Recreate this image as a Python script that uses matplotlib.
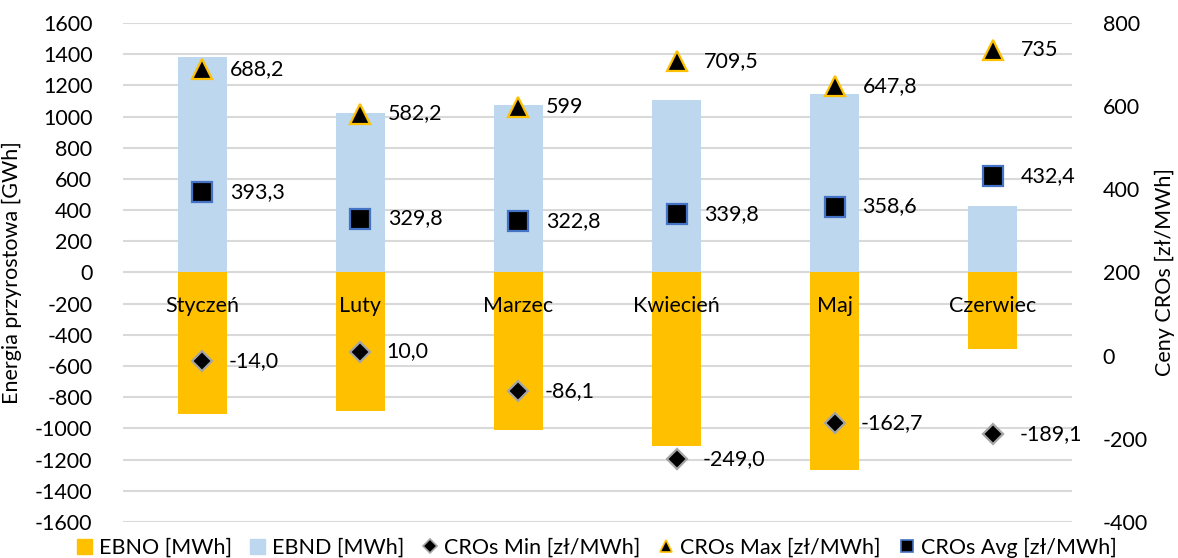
import matplotlib
matplotlib.use("Agg")
import matplotlib.pyplot as plt
from matplotlib.lines import Line2D
from matplotlib.patches import Patch
import numpy as np

plt.rcParams['font.family'] = ['Lato', 'DejaVu Sans']
plt.rcParams['axes.unicode_minus'] = False

months = ["Styczeń", "Luty", "Marzec", "Kwiecień", "Maj", "Czerwiec"]
ebno = [-905, -891, -1013, -1112, -1267, -490]
ebnd = [1380, 1026, 1075, 1103, 1144, 426]
cros_min = [-14.0, 10.0, -86.1, -249.0, -162.7, -189.1]
cros_max = [688.2, 582.2, 599, 709.5, 647.8, 735]
cros_avg = [393.3, 329.8, 322.8, 339.8, 358.6, 432.4]

C_EBNO = "#FFC000"
C_EBND = "#BDD7EE"
C_GRID = "#D9D9D9"
FS = 15.5

fig = plt.figure(figsize=(11.78, 5.58), dpi=100)
ax = fig.add_axes([0.1044, 0.0645, 0.8056, 0.8943])
ax2 = ax.twinx()

x = np.arange(len(months))
w = 0.31
ax.bar(x, ebno, width=w, color=C_EBNO, zorder=2)
ax.bar(x, ebnd, width=w, color=C_EBND, zorder=2)

ax.set_xlim(-0.5, len(months) - 0.5)
ax.set_ylim(-1600, 1600)
ax.set_yticks(np.arange(-1600, 1601, 200))
ax.yaxis.grid(True, color=C_GRID, linewidth=1.5, zorder=0)
ax.set_axisbelow(True)
ax.set_xticks([])
for s in ax.spines.values():
    s.set_visible(False)
for s in ax2.spines.values():
    s.set_visible(False)
ax.tick_params(axis='y', length=0, labelsize=FS, pad=22)
ax.set_ylabel("Energia przyrostowa [GWh]", fontsize=FS)
ax.yaxis.set_label_coords(-0.1064, 0.5)

ax2.set_ylim(-400, 800)
ax2.set_yticks(np.arange(-400, 801, 200))
ax2.tick_params(axis='y', length=0, labelsize=FS, pad=22)
ax2.set_ylabel("Ceny CROs [zł/MWh]", fontsize=FS)
ax2.yaxis.set_label_coords(1.087, 0.5)

# month names just below the zero line
for xi, m in zip(x, months):
    ax.annotate(m, (xi, 0), xytext=(0, -24), textcoords='offset points',
                ha='center', va='center', fontsize=FS, zorder=5)

ax2.plot(x, cros_min, linestyle='none', marker='D', markersize=10.5,
         markerfacecolor='black', markeredgecolor='#A5A5A5', markeredgewidth=1.6, zorder=4)
ax2.plot(x, cros_max, linestyle='none', marker='^', markersize=14,
         markerfacecolor='black', markeredgecolor=C_EBNO, markeredgewidth=1.6, zorder=4)
ax2.plot(x, cros_avg, linestyle='none', marker='s', markersize=14,
         markerfacecolor='black', markeredgecolor='#4472C4', markeredgewidth=1.6, zorder=4)


def fmt1(v):
    return f"{v:.1f}".replace('.', ',')


def fmtg(v):
    return f"{v:g}".replace('.', ',')


for xi, v in zip(x, cros_min):
    ax2.annotate(fmt1(v), (xi, v), xytext=(19, 0), textcoords='offset points',
                 ha='left', va='center', fontsize=FS)
for xi, v in zip(x, cros_max):
    ax2.annotate(fmtg(v), (xi, v), xytext=(20, 0), textcoords='offset points',
                 ha='left', va='center', fontsize=FS)
for xi, v in zip(x, cros_avg):
    ax2.annotate(fmt1(v), (xi, v), xytext=(20, 0), textcoords='offset points',
                 ha='left', va='center', fontsize=FS)

handles = [
    Patch(color=C_EBNO, label="EBNO [MWh]"),
    Patch(color=C_EBND, label="EBND [MWh]"),
    Line2D([], [], linestyle='none', marker='D', markersize=7, markerfacecolor='black',
           markeredgecolor='#A5A5A5', markeredgewidth=1.2, label="CROs Min [zł/MWh]"),
    Line2D([], [], linestyle='none', marker='^', markersize=9, markerfacecolor='black',
           markeredgecolor=C_EBNO, markeredgewidth=1.2, label="CROs Max [zł/MWh]"),
    Line2D([], [], linestyle='none', marker='s', markersize=9, markerfacecolor='black',
           markeredgecolor='#4472C4', markeredgewidth=1.2, label="CROs Avg [zł/MWh]"),
]
fig.legend(handles=handles, loc='center', bbox_to_anchor=(597 / 1178, 0.018), ncol=5,
           frameon=False, fontsize=FS, handlelength=0.7, handleheight=0.7,
           handletextpad=0.3, columnspacing=0.85, borderpad=0)

fig.savefig("out.png", dpi=100)
